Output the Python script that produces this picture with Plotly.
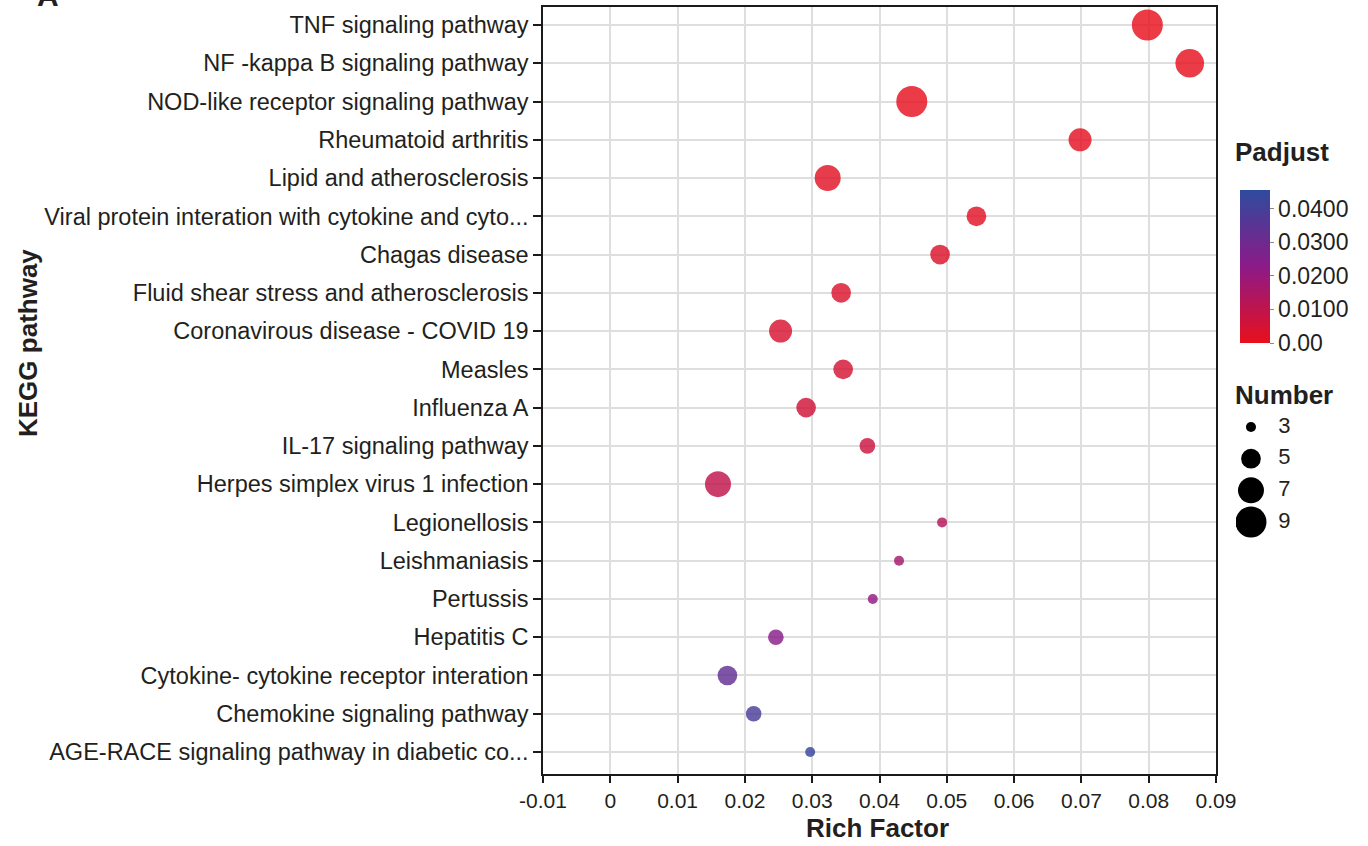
import numpy as np
import plotly.graph_objects as go

pathways = [
    "TNF signaling pathway",
    "NF -kappa B signaling pathway",
    "NOD-like receptor signaling pathway",
    "Rheumatoid arthritis",
    "Lipid and atherosclerosis",
    "Viral protein interation with cytokine and cyto...",
    "Chagas disease",
    "Fluid shear stress and atherosclerosis",
    "Coronavirous disease - COVID 19",
    "Measles",
    "Influenza A",
    "IL-17 signaling pathway",
    "Herpes simplex virus 1 infection",
    "Legionellosis",
    "Leishmaniasis",
    "Pertussis",
    "Hepatitis C",
    "Cytokine- cytokine receptor interation",
    "Chemokine signaling pathway",
    "AGE-RACE signaling pathway in diabetic co...",
]
rich_factor = [0.0798, 0.0861, 0.0448, 0.0698, 0.0323, 0.0544, 0.0490, 0.0343, 0.0253, 0.0346,
               0.0291, 0.0382, 0.0160, 0.0493, 0.0429, 0.0390, 0.0246, 0.0174, 0.0213, 0.0297]
number = [9, 8, 9, 6, 7, 5, 5, 5, 6, 5, 5, 4, 7, 3, 3, 3, 4, 5, 4, 3]
padjust = [0.0001, 0.0002, 0.0005, 0.0010, 0.0015, 0.0020, 0.0030, 0.0035, 0.0040, 0.0050,
           0.0060, 0.0070, 0.0100, 0.0130, 0.0170, 0.0210, 0.0240, 0.0330, 0.0390, 0.0430]

x_ticks = [-0.01, 0, 0.01, 0.02, 0.03, 0.04, 0.05, 0.06, 0.07, 0.08, 0.09]
x_ticktext = ["-0.01", "0", "0.01", "0.02", "0.03", "0.04", "0.05", "0.06", "0.07", "0.08", "0.09"]
cb_ticks = [0.0, 0.01, 0.02, 0.03, 0.04]
cb_ticktext = ["0.00", "0.0100", "0.0200", "0.0300", "0.0400"]
legend_numbers = [3, 5, 7, 9]


def diam(n):
    return np.sqrt(143.5 * np.asarray(n, dtype=float) - 330.0)


colorscale = [[0.0, "#E8101C"], [0.5, "#8C1A88"], [1.0, "#2E4B9E"]]
FONT = "Liberation Sans, Arial, sans-serif"
W, H = 1368, 846
ML, MR, MT, MB = 543, 20, 7, 72
PW = W - ML - MR
PH = H - MT - MB


def px_x(p):
    return (p - ML) / PW


def px_y(p):
    return (H - MB - p) / PH


fig = go.Figure()
fig.add_trace(go.Scatter(
    x=rich_factor, y=pathways, mode="markers",
    marker=dict(size=diam(number), sizemode="diameter", color=padjust,
                colorscale=colorscale, cmin=0, cmax=0.0455, opacity=0.82,
                line=dict(width=0),
                colorbar=dict(xref="paper", yref="paper",
                              x=px_x(1240), xanchor="left", y=px_y(343), yanchor="bottom",
                              len=153, lenmode="pixels", thickness=30,
                              xpad=0, ypad=0, outlinewidth=0,
                              tickvals=cb_ticks, ticktext=cb_ticktext,
                              ticks="outside", ticklen=4, tickcolor="#888",
                              tickfont=dict(family=FONT, size=23, color="#231F20"))),
    showlegend=False, hoverinfo="x+y",
))

# size legend
fig.add_trace(go.Scatter(
    x=[0.234] * len(legend_numbers), y=legend_numbers, mode="markers",
    marker=dict(size=diam(legend_numbers), sizemode="diameter", color="#000000", opacity=1,
                line=dict(width=0)),
    xaxis="x2", yaxis="y2", showlegend=False, hoverinfo="skip",
))
fig.add_trace(go.Scatter(
    x=[0.66] * len(legend_numbers), y=legend_numbers, mode="text",
    text=[str(v) for v in legend_numbers], textposition="middle right",
    textfont=dict(family=FONT, size=22, color="#231F20"),
    xaxis="x2", yaxis="y2", showlegend=False, hoverinfo="skip",
))

fig.update_layout(
    width=W, height=H,
    margin=dict(l=ML, r=MR, t=MT, b=MB, autoexpand=False),
    paper_bgcolor="white", plot_bgcolor="white",
    font=dict(family=FONT, color="#231F20"),
    xaxis=dict(domain=[0, 673 / PW], range=[-0.01, 0.09],
               tickvals=x_ticks, ticktext=x_ticktext,
               tickfont=dict(family=FONT, size=21, color="#231F20"),
               showgrid=True, gridcolor="#DEDEDE", gridwidth=1.5, zeroline=False,
               showline=True, linecolor="#1a1a1a", linewidth=1.5, mirror=True,
               ticks="outside", ticklen=7, tickcolor="#1a1a1a", tickwidth=1.5),
    yaxis=dict(categoryorder="array", categoryarray=pathways,
               range=[19.575, -0.47],
               tickfont=dict(family=FONT, size=23.5, color="#231F20"),
               showgrid=True, gridcolor="#DEDEDE", gridwidth=1.5, zeroline=False,
               showline=True, linecolor="#1a1a1a", linewidth=1.5, mirror=True,
               ticks="outside", ticklen=8, tickcolor="#1a1a1a", tickwidth=1.5),
    xaxis2=dict(domain=[px_x(1236), px_x(1300)], range=[0, 1], visible=False,
                anchor="y2", fixedrange=True),
    yaxis2=dict(domain=[px_y(540), px_y(410)], range=[10.137, 1.926], visible=False,
                anchor="x2", fixedrange=True),
    annotations=[
        dict(text="<b>Rich Factor</b>", xref="paper", yref="paper",
             x=px_x(877), y=px_y(828), xanchor="center", yanchor="middle",
             showarrow=False, font=dict(family=FONT, size=26, color="#231F20")),
        dict(text="<b>KEGG pathway</b>", xref="paper", yref="paper", textangle=-90,
             x=px_x(28), y=px_y(343), xanchor="center", yanchor="middle",
             showarrow=False, font=dict(family=FONT, size=26, color="#231F20")),
        dict(text="<b>Padjust</b>", xref="paper", yref="paper",
             x=px_x(1233), y=px_y(152), xanchor="left", yanchor="middle",
             showarrow=False, font=dict(family=FONT, size=26, color="#231F20")),
        dict(text="<b>Number</b>", xref="paper", yref="paper",
             x=px_x(1233), y=px_y(395), xanchor="left", yanchor="middle",
             showarrow=False, font=dict(family=FONT, size=26, color="#231F20")),
        dict(text="<b>A</b>", xref="paper", yref="paper",
             x=px_x(48), y=px_y(14), xanchor="center", yanchor="bottom",
             showarrow=False, font=dict(family=FONT, size=30, color="#231F20")),
    ],
)

fig.write_html("out.html")
